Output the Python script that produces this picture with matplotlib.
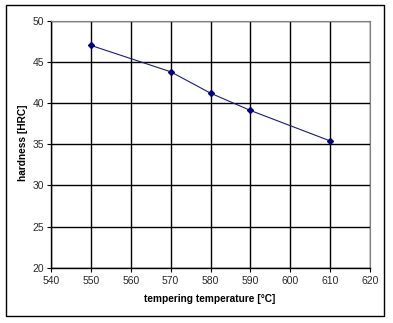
import matplotlib.pyplot as plt
from matplotlib.patches import Rectangle

# tempering curve
temperature = [550, 570, 580, 590, 610]
hardness = [47.0, 43.8, 41.2, 39.1, 35.4]

x_ticks = [540, 550, 560, 570, 580, 590, 600, 610, 620]
y_ticks = [20, 25, 30, 35, 40, 45, 50]

plt.rcParams["font.family"] = ["Liberation Sans", "DejaVu Sans"]

fig = plt.figure(figsize=(3.93, 3.23), dpi=100)
ax = fig.add_axes([51 / 393, 1 - 267.7 / 323, (370 - 51) / 393, (267.7 - 20.7) / 323])

ax.plot(temperature, hardness, color="#1a1a80", lw=0.8, marker="D", markersize=3,
        markerfacecolor="#000080", markeredgecolor="#000080", zorder=3)

ax.set_xlim(540, 620)
ax.set_ylim(20, 50)
ax.set_xticks(x_ticks)
ax.set_yticks(y_ticks)
ax.grid(True, color="black", lw=1.0)
ax.set_axisbelow(True)

for side in ["top", "right"]:
    ax.spines[side].set_color("#808080")
for side in ["left", "bottom"]:
    ax.spines[side].set_color("black")
    ax.spines[side].set_linewidth(1.0)

ax.tick_params(axis="both", labelsize=7.5, colors="black", length=3, width=0.8,
               labelcolor="#2a2a2a")
ax.tick_params(axis="x", pad=3)
ax.tick_params(axis="y", pad=2)

fig.text(210 / 393, 1 - 299 / 323, "tempering temperature [°C]", fontsize=7.3,
         fontweight="bold", ha="center", va="center")
fig.text(23 / 393, 1 - 143 / 323, "hardness [HRC]", fontsize=7.3,
         fontweight="bold", ha="center", va="center", rotation=90)

# outer chart border
fig.patches.append(Rectangle((6 / 393, 1 - 316 / 323), (384 - 6) / 393, (316 - 5) / 323,
                             transform=fig.transFigure, fill=False,
                             edgecolor="black", lw=1.0))

fig.savefig("out.png", dpi=100)
